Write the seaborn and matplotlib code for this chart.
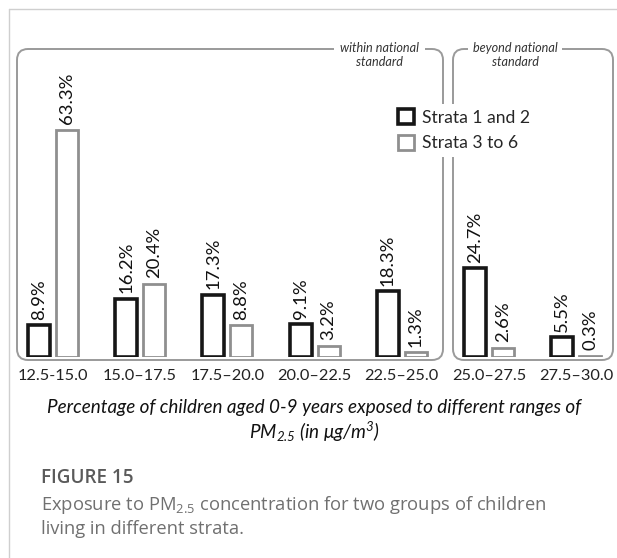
import matplotlib
matplotlib.use("Agg")
import matplotlib.pyplot as plt
from matplotlib.patches import FancyBboxPatch, Patch
from matplotlib.lines import Line2D
from matplotlib.transforms import IdentityTransform
import seaborn as sns
import pandas as pd

# ---- data ----
ranges = ["12.5-15.0", "15.0–17.5", "17.5–20.0", "20.0–22.5",
          "22.5–25.0", "25.0–27.5", "27.5–30.0"]
strata_1_2 = [8.9, 16.2, 17.3, 9.1, 18.3, 24.7, 5.5]
strata_3_6 = [63.3, 20.4, 8.8, 3.2, 1.3, 2.6, 0.3]
groups = ["Strata 1 and 2", "Strata 3 to 6"]
group_colors = ["#161616", "#8f8f8f"]

df = pd.DataFrame({
    "range": ranges * 2,
    "pct": strata_1_2 + strata_3_6,
    "group": [groups[0]] * len(ranges) + [groups[1]] * len(ranges),
})

sns.set_theme(style="white")
plt.rcParams["font.family"] = ["Lato", "DejaVu Sans"]
plt.rcParams["mathtext.default"] = "regular"

W, H = 617, 558
fig = plt.figure(figsize=(W / 100, H / 100), dpi=100)
fig.patch.set_facecolor("white")

# axes placement in pixels (from top-left)
ax_left, ax_right = 10, 610
base_y, top_y = 357, 60
ax = fig.add_axes([ax_left / W, (H - base_y) / H,
                   (ax_right - ax_left) / W, (base_y - top_y) / H])
ax.set_facecolor("none")

sns.barplot(data=df, x="range", y="pct", hue="group", order=ranges,
            hue_order=groups, palette=group_colors, fill=False,
            width=0.642, gap=0.214, linewidth=2.2, legend=False, ax=ax)

spacing = 87.2
first_c = 53
ax.set_xlim((ax_left - first_c) / spacing, (ax_right - first_c) / spacing)
ax.set_ylim(0, (base_y - top_y) / 3.586)

lws = [2.6, 2.0]
for cont, lw, col in zip(ax.containers, lws, group_colors):
    for p in cont:
        p.set_linewidth(lw)
        p.set_edgecolor(col)
        p.set_facecolor("white")
    ax.bar_label(cont, labels=[f"{v:.1f}%" for v in cont.datavalues],
                 rotation=90, padding=4, fontsize=13.3, color="#111111")

for s in ax.spines.values():
    s.set_visible(False)
ax.set_yticks([])
ax.set_ylabel("")
ax.set_xlabel("")
ax.tick_params(axis="x", length=0, pad=9, labelsize=11.8, labelcolor="#222222")

tr = IdentityTransform()
# figure frame lines (top and left)
fig.add_artist(Line2D([9, W], [H - 9, H - 9], transform=tr, color="#cfcfcf", lw=1))
fig.add_artist(Line2D([9, 9], [H - 9, 0], transform=tr, color="#cfcfcf", lw=1))

# rounded boxes
box_top, box_bot = 49, 360
for x0, x1 in [(17, 443), (453, 613)]:
    fig.add_artist(FancyBboxPatch((x0, H - box_bot), x1 - x0, box_bot - box_top,
                                  boxstyle="round,pad=0,rounding_size=11",
                                  transform=tr, facecolor="none",
                                  edgecolor="#9a9a9a", lw=1.4, zorder=1))

fig.text(379.5 / W, 1 - 55 / H, "within national\nstandard", ha="center", va="center",
         style="italic", fontsize=9.1, color="#333333", linespacing=1.2,
         bbox=dict(facecolor="white", edgecolor="none", pad=4), zorder=3)
fig.text(515 / W, 1 - 55 / H, "beyond national\nstandard", ha="center", va="center",
         style="italic", fontsize=9.1, color="#333333", linespacing=1.2,
         bbox=dict(facecolor="white", edgecolor="none", pad=3), zorder=3)

handles = [Patch(facecolor="white", edgecolor=c, linewidth=lw) for c, lw in zip(group_colors, lws)]
fig.legend(handles, groups, loc="upper left",
           bbox_to_anchor=(393 / W, 1 - 104 / H), fontsize=12.6,
           frameon=True, facecolor="white", edgecolor="none", framealpha=1,
           handlelength=0.9, handleheight=0.9, handletextpad=0.45,
           labelspacing=0.55, borderpad=0.3, borderaxespad=0)

# axis title
fig.text(314 / W, 1 - 408 / H,
         "Percentage of children aged 0-9 years exposed to different ranges of",
         ha="center", va="center", style="italic", fontsize=13.6, color="#111111")
fig.text(314 / W, 1 - 432 / H, "PM$_{2.5}$ (in μg/m$^{3}$)",
         ha="center", va="center", style="italic", fontsize=13.6, color="#111111")

# figure caption
fig.text(41 / W, 1 - 478 / H, "FIGURE 15", ha="left", va="center",
         fontsize=13.6, fontweight="semibold", color="#5a5a5a",
         family=["Open Sans", "DejaVu Sans"])
fig.text(41 / W, 1 - 516 / H,
         "Exposure to PM$_{2.5}$ concentration for two groups of children\nliving in different strata.",
         ha="left", va="center", fontsize=13.2, color="#707070", linespacing=1.22,
         family=["Open Sans", "DejaVu Sans"])

fig.savefig("out.png", dpi=100)
